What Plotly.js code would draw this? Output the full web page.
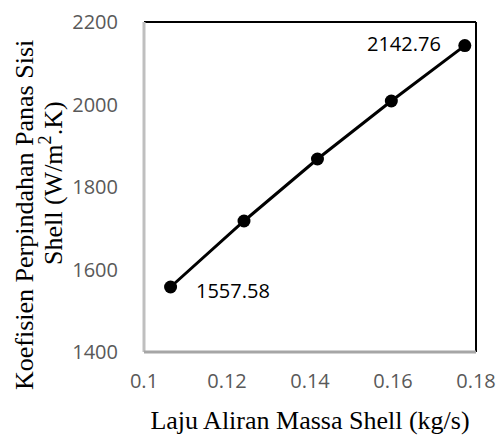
<!DOCTYPE html>
<html>
<head>
<meta charset="utf-8">
<script src="https://cdn.plot.ly/plotly-3.0.1.min.js"></script>
<style>html,body{margin:0;padding:0;background:#fff;}#chart{width:497px;height:435px;}</style>
</head>
<body>
<div id="chart"></div>
<script>
const massFlow = [0.1064, 0.1241, 0.1418, 0.1596, 0.1773];
const heatCoef = [1557.58, 1717.6, 1867.9, 2008.5, 2142.76];
const xTicks = [0.1, 0.12, 0.14, 0.16, 0.18];
const xTickLabels = ['0.1', '0.12', '0.14', '0.16', '0.18'];
const yTicks = [1400, 1600, 1800, 2000, 2200];
const yTickLabels = ['1400', '1600', '1800', '2000', '2200'];
const xTitle = 'Laju Aliran Massa Shell (kg/s)';
const yTitleLine1 = 'Koefisien Perpindahan Panas Sisi';
const yTitleLine2 = 'Shell (W/m<sup>2</sup>.K)';

const tickFont = {family: 'Open Sans, sans-serif', size: 20, color: '#595959'};
const serif = {family: 'Liberation Serif, Times New Roman, serif', size: 26, color: '#000'};

const trace = {
  x: massFlow, y: heatCoef, type: 'scatter', mode: 'lines+markers',
  line: {color: '#000', width: 3},
  marker: {color: '#000', size: 13},
  hoverinfo: 'none'
};

const layout = {
  width: 497, height: 435,
  margin: {l: 144, r: 21, t: 22, b: 83},
  paper_bgcolor: '#fff', plot_bgcolor: '#fff',
  showlegend: false,
  xaxis: {
    range: [0.1, 0.18], tickvals: xTicks, ticktext: xTickLabels,
    showgrid: false, zeroline: false, showline: false, ticks: '',
    tickfont: tickFont, ticklabelstandoff: 15,
    title: {text: xTitle, font: serif, standoff: 18}
  },
  yaxis: {
    range: [1400, 2200], tickvals: yTicks, ticktext: yTickLabels,
    showgrid: false, zeroline: false, showline: false, ticks: '',
    tickfont: tickFont, ticklabelstandoff: 25
  },
  shapes: [
    {type: 'line', xref: 'paper', yref: 'paper', x0: 0, x1: 1, y0: 1, y1: 1, line: {color: '#000', width: 2}},
    {type: 'line', xref: 'paper', yref: 'paper', x0: 1, x1: 1, y0: 0, y1: 1, line: {color: '#000', width: 2}},
    {type: 'line', xref: 'paper', yref: 'paper', x0: 0, x1: 0, y0: 0, y1: 1, line: {color: '#bfbfbf', width: 3}},
    {type: 'line', xref: 'paper', yref: 'paper', x0: 0, x1: 1, y0: 0, y1: 0, line: {color: '#a6a6a6', width: 3}}
  ],
  annotations: [
    {x: massFlow[4], y: heatCoef[4], xref: 'x', yref: 'y', text: heatCoef[4].toFixed(2), showarrow: false,
     xanchor: 'right', yanchor: 'middle', xshift: -22, yshift: 2,
     font: {family: 'Open Sans, sans-serif', size: 20, color: '#000'}},
    {x: massFlow[0], y: heatCoef[0], xref: 'x', yref: 'y', text: heatCoef[0].toFixed(2), showarrow: false,
     xanchor: 'left', yanchor: 'middle', xshift: 23, yshift: -3,
     font: {family: 'Open Sans, sans-serif', size: 20, color: '#000'}},
    {x: 0, y: 0, xref: 'paper', yref: 'paper', text: yTitleLine1, showarrow: false, textangle: -90,
     xanchor: 'center', yanchor: 'middle', font: serif},
    {x: 0, y: 0, xref: 'paper', yref: 'paper', text: yTitleLine2, showarrow: false, textangle: -90,
     xanchor: 'center', yanchor: 'middle', font: serif}
  ]
};

// place y-title annotations at pixel positions converted to paper coords
const plotW = 497 - 144 - 21, plotH = 435 - 22 - 83;
layout.annotations[2].x = (24 - 144) / plotW; layout.annotations[2].y = 1 - (215 - 22) / plotH;
layout.annotations[3].x = (52 - 144) / plotW; layout.annotations[3].y = 1 - (183 - 22) / plotH;

Plotly.newPlot('chart', [trace], layout, {displayModeBar: false, staticPlot: true});
</script>
</body>
</html>
